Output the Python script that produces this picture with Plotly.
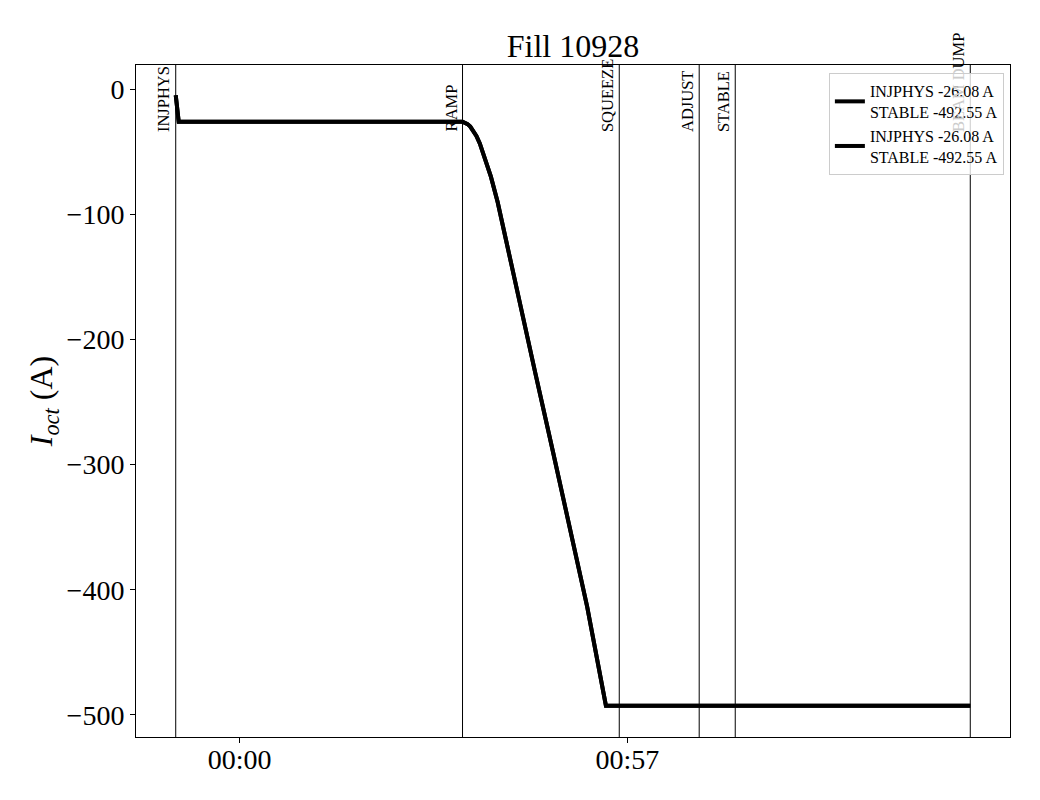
import plotly.graph_objects as go

# time in minutes relative to 00:00, current in A
t_min = [-9.40, -8.96, 32.76, 33.10, 33.50, 33.90, 34.30, 34.80, 35.30, 35.71,
         36.30, 36.93, 37.92, 38.42, 40.87, 43.47, 46.03, 48.63, 51.08, 53.84,
         107.40]
i_oct = [-5.0, -26.08, -26.08, -26.6, -28.0, -30.0, -33.0, -37.5, -43.5, -49.8,
         -59.5, -70.0, -90.2, -102.6, -164.8, -227.1, -289.1, -351.3, -413.4,
         -492.55, -492.55]

mode_names = ["INJPHYS", "RAMP", "SQUEEZE", "ADJUST", "STABLE",
              "<span style='color:#cccccc'>BEAM D</span>UMP"]
mode_times = [-9.40, 32.76, 55.80, 67.55, 72.85, 107.40]

tick_vals = [0, 57]
tick_text = ["00:00", "00:57"]
y_ticks = [0, -100, -200, -300, -400, -500]

legend_name = "INJPHYS -26.08 A<br>STABLE -492.55 A"

FONT = "Liberation Serif, Times New Roman, serif"

fig = go.Figure()
for k in range(2):
    fig.add_trace(go.Scatter(x=t_min, y=i_oct, mode="lines", name=legend_name,
                             line=dict(color="black", width=4)))

for name, tm in zip(mode_names, mode_times):
    fig.add_shape(type="line", x0=tm, x1=tm, y0=0, y1=1, xref="x", yref="paper",
                  line=dict(color="black", width=1), layer="below")
    fig.add_annotation(x=tm, y=-35.0, xref="x", yref="y", text=name,
                       textangle=-90, xanchor="right", yanchor="bottom",
                       showarrow=False, borderpad=0, xshift=-1,
                       font=dict(family=FONT, size=16.5, color="black"))

fig.update_layout(
    width=1040, height=800,
    margin=dict(l=128, r=38, t=57, b=71, autoexpand=False),
    paper_bgcolor="white", plot_bgcolor="white",
    font=dict(family=FONT, color="black"),
    title=dict(text="Fill 10928", x=0.5, xref="paper", xanchor="center",
               y=1 - 38 / 800, yanchor="middle",
               font=dict(family=FONT, size=32, color="black")),
    legend=dict(x=0.993, y=0.988, xanchor="right", yanchor="top",
                bgcolor="rgba(255,255,255,0.8)", bordercolor="#cccccc",
                borderwidth=1, font=dict(family=FONT, size=16, color="black"),
                valign="middle", tracegroupgap=0),
    showlegend=True,
)

fig.update_xaxes(range=[-15.24, 113.24], tickmode="array", tickvals=tick_vals,
                 ticktext=tick_text, ticks="outside", ticklen=5, tickcolor="black",
                 showline=True, linecolor="black", linewidth=1, mirror=True,
                 showgrid=False, zeroline=False, automargin=False,
                 ticklabelstandoff=-8,
                 tickfont=dict(family=FONT, size=28, color="black"))
fig.update_yaxes(range=[-517.6, 19.2], tickmode="array", tickvals=y_ticks,
                 ticks="outside", ticklen=5, tickcolor="black",
                 showline=True, linecolor="black", linewidth=1, mirror=True,
                 showgrid=False, zeroline=False, automargin=False,
                 tickfont=dict(family=FONT, size=28, color="black"),
                 title=dict(text="<i>I</i><sub><i>oct</i></sub> (A)", standoff=4,
                            font=dict(family=FONT, size=32, color="black")))

fig.write_html("out.html")
